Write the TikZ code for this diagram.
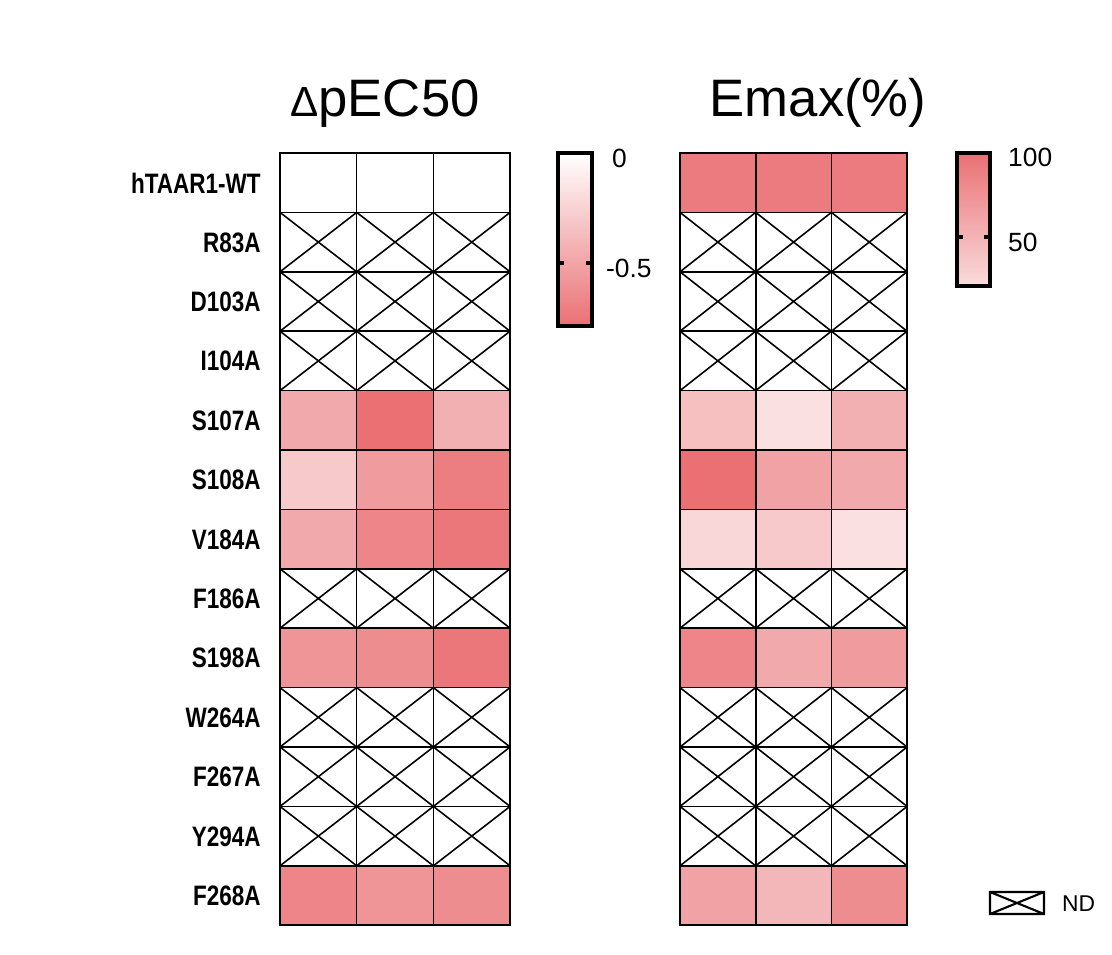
\documentclass[tikz,border=0pt]{standalone}
\usepackage{fontspec}
\setmainfont{Liberation Sans}
\usepackage{graphicx}
\usepackage{tikz}
\definecolor{hmred}{RGB}{234,112,116}
\tikzset{
  rowlabel/.style={anchor=east, inner sep=0pt, font=\fontsize{16}{16}\selectfont\bfseries},
  title/.style={anchor=base, font=\fontsize{30}{30}\selectfont},
  ticklabel/.style={anchor=west, font=\fontsize{15}{15}\selectfont},
  cellline/.style={draw=black, line width=0.9pt}
}
\newcommand{\narrowtext}[1]{\scalebox{0.8}[1]{#1}}
% a heat map cell: x0, y0, width, value (-1 = not determined)
\newcommand{\hmcell}[4]{%
  \ifnum#4<0
    \draw[cellline, fill=white] (#1,#2) rectangle ++(#3,59.4);
    \draw[cellline] (#1,#2) -- ++(#3,59.4) (#1+#3,#2) -- ++(-#3,59.4);
  \else
    \draw[cellline, fill=hmred!#4!white] (#1,#2) rectangle ++(#3,59.4);
  \fi}
\begin{document}
\begin{tikzpicture}[x=0.02cm, y=-0.02cm]
\useasboundingbox (0,0) rectangle (1112,955);

\node[title] (tpec) at (385,117) {{\fontsize{24}{24}\selectfont Δ}pEC50};
\node[title] (temax) at (818,117) {Emax(\%)};

\foreach \lab/\a/\b/\c/\d/\e/\f [count=\i from 0] in {
  hTAAR1-WT/0/0/0/92/92/92,
  R83A/-1/-1/-1/-1/-1/-1,
  D103A/-1/-1/-1/-1/-1/-1,
  I104A/-1/-1/-1/-1/-1/-1,
  S107A/60/100/55/45/22/55,
  S108A/38/70/90/100/65/60,
  V184A/60/85/95/28/38/22,
  F186A/-1/-1/-1/-1/-1/-1,
  S198A/75/80/95/85/60/70,
  W264A/-1/-1/-1/-1/-1/-1,
  F267A/-1/-1/-1/-1/-1/-1,
  Y294A/-1/-1/-1/-1/-1/-1,
  F268A/85/75/80/65/50/80}{
  \pgfmathsetmacro{\yy}{153+59.4*\i}
  \node[rowlabel] (row\i) at (261,\yy+30) {\narrowtext{\lab}};
  \hmcell{280}{\yy}{76.7}{\a}
  \hmcell{356.7}{\yy}{76.7}{\b}
  \hmcell{433.4}{\yy}{76.7}{\c}
  \hmcell{680}{\yy}{75.7}{\d}
  \hmcell{755.7}{\yy}{75.7}{\e}
  \hmcell{831.4}{\yy}{75.7}{\f}
}

% colour bars
\shade[top color=white, bottom color=hmred] (558,153) rectangle (592,326);
\draw[line width=1.8pt] (558,153) rectangle (592,326);
\draw[line width=1.8pt] (558,263) -- ++(6,0) (592,263) -- ++(-6,0);
\node[ticklabel] (pzero) at (606,158) {0};
\node[ticklabel] (phalf) at (600,268) {-0.5};

\shade[top color=hmred, bottom color=hmred!25!white] (957,153) rectangle (990,286);
\draw[line width=1.8pt] (957,153) rectangle (990,286);
\draw[line width=1.8pt] (957,237) -- ++(6,0) (990,237) -- ++(-6,0);
\node[ticklabel] (ehund) at (1002,157) {100};
\node[ticklabel] (efifty) at (1002,242) {50};

% legend
\draw[line width=1.2pt] (990,892) rectangle (1044,914) (990,892) -- (1044,914) (990,914) -- (1044,892);
\node[anchor=west, font=\fontsize{13}{13}\selectfont] (nd) at (1056,904) {ND};
\end{tikzpicture}
\end{document}
